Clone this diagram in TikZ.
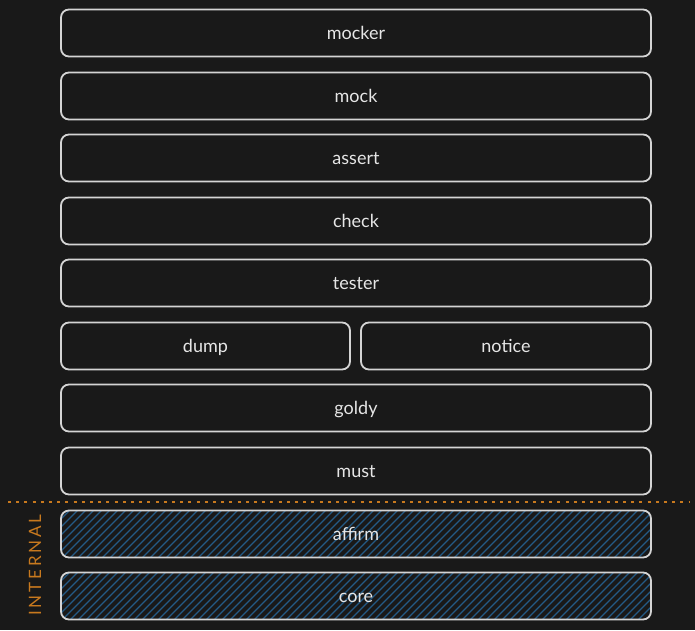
\documentclass[tikz,border=0pt]{standalone}
\usepackage{fontspec}
\setmainfont{Lato}
\definecolor{bg}{HTML}{191919}
\definecolor{edge}{HTML}{D4D4D4}
\definecolor{txt}{HTML}{E6E6E6}
\definecolor{hatch}{HTML}{245A86}
\definecolor{orng}{HTML}{C8791E}
\begin{document}
\begin{tikzpicture}[x=1pt,y=-1pt,
  layer/.style={draw=edge, line width=1.8pt, rounded corners=8pt, fill=bg, minimum height=47pt, inner sep=0pt, text=txt, text height=13pt, text depth=1pt, font=\fontsize{18}{20}\selectfont},
]
\fill[bg] (0,0) rectangle (695,630);
\useasboundingbox (0,0) rectangle (695,630);
\foreach \n/\t/\y in {mocker/mocker/33, mock/mock/96, assert/assert/158, check/check/221, tester/tester/283, goldy/goldy/408, must/must/471}{
  \node[layer, minimum width=590pt] (\n) at (356,\y) {\t};
}
\node[layer, minimum width=289pt] (dump) at (205.5,346) {dump};
\node[layer, minimum width=290pt] (notice) at (506,346) {notice};
% internal hatched boxes
\foreach \n/\y in {affirm/534, core/596}{
  \begin{scope}
    \clip[rounded corners=8pt] (61,\y-23.5) rectangle (651,\y+23.5);
    \fill[bg] (61,\y-23.5) rectangle (651,\y+23.5);
    \foreach \k in {-64,-56,...,680}{
      \draw[hatch, line width=1.3pt] (40+\k,\y+30) -- (100+\k,\y-30);
    }
  \end{scope}
  \node[layer, fill=none, minimum width=590pt] (\n) at (356,\y) {\n};
}
\coordinate (dl) at (8,502);
\coordinate (dr) at (690,502);
\draw[orng, line width=2.4pt, dash pattern=on 3pt off 5.2pt] (dl) -- (dr);
\node[rotate=90, text=orng, font=\fontsize{17}{19}\selectfont] (internal) at (35,565) {I\,N\,T\,E\,R\,N\,A\,L};
\end{tikzpicture}
\end{document}
